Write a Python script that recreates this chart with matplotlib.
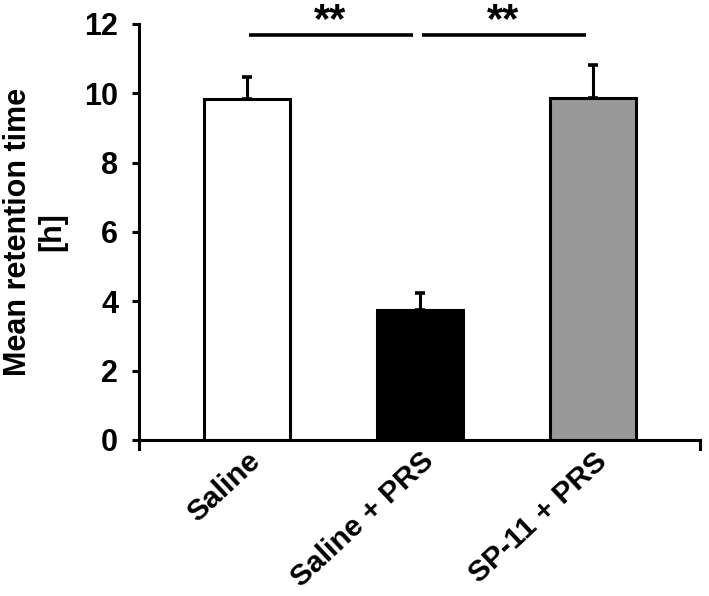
import numpy as np
from matplotlib import pyplot as plt

plt.rcParams['font.family'] = ['Liberation Sans', 'DejaVu Sans']
plt.rcParams['font.weight'] = 'bold'

groups = ["Saline", "Saline + PRS", "SP-11 + PRS"]
means = [9.83, 3.75, 9.86]
errors = [0.64, 0.50, 0.94]
colors = ["white", "black", "#999999"]

# significance brackets: (from group, to group, height, label)
sig_pairs = [(0, 1, 11.69, "**"), (1, 2, 11.69, "**")]

fig = plt.figure()
fig.set_dpi(100)
fig.set_size_inches(7.09, 5.96)
ax = fig.add_axes([0.196, 0.262, 0.791, 0.698])

x = np.arange(len(groups))
ax.bar(x, means, width=0.5, color=colors, edgecolor="black", linewidth=2.2, zorder=2)
ax.errorbar(x, means, yerr=[np.zeros(len(errors)), errors], fmt="none",
            ecolor="black", elinewidth=2.2, capsize=3.6, capthick=2.6, zorder=1)

for i, j, h, lab in sig_pairs:
    ax.plot([i + 0.01, j - 0.04], [h, h], color="black", lw=2.6, clip_on=False,
            solid_capstyle="butt")
    ax.text((i + j) / 2 - 0.02, h + 0.08, lab, ha="center", va="baseline",
            fontsize=30, fontweight="bold", clip_on=False)

ax.set_xlim(-0.624, 2.618)
ax.set_ylim(0, 12)
ax.set_yticks(np.arange(0, 13, 2))
ax.set_xticks(x)
ax.set_xticklabels(groups, rotation=43, ha="right", rotation_mode="anchor",
                   fontsize=21.5, fontweight="bold")
ax.tick_params(axis="x", length=0, pad=5)
ax.tick_params(axis="y", labelsize=22, width=2.2, length=5, pad=10,
               direction="out")

for s in ["top", "right"]:
    ax.spines[s].set_visible(False)
for s in ["left", "bottom"]:
    ax.spines[s].set_linewidth(2.2)

# end ticks of the category axis
ax.plot([-0.624, -0.624], [0, -0.25], color="black", lw=2.2, clip_on=False)
ax.plot([2.618, 2.618], [0, -0.25], color="black", lw=2.2, clip_on=False)

ax.set_ylabel("Mean retention time\n[h]", fontsize=22, fontweight="bold",
              labelpad=12, linespacing=1.2)

fig.savefig("out.png", dpi=100)
